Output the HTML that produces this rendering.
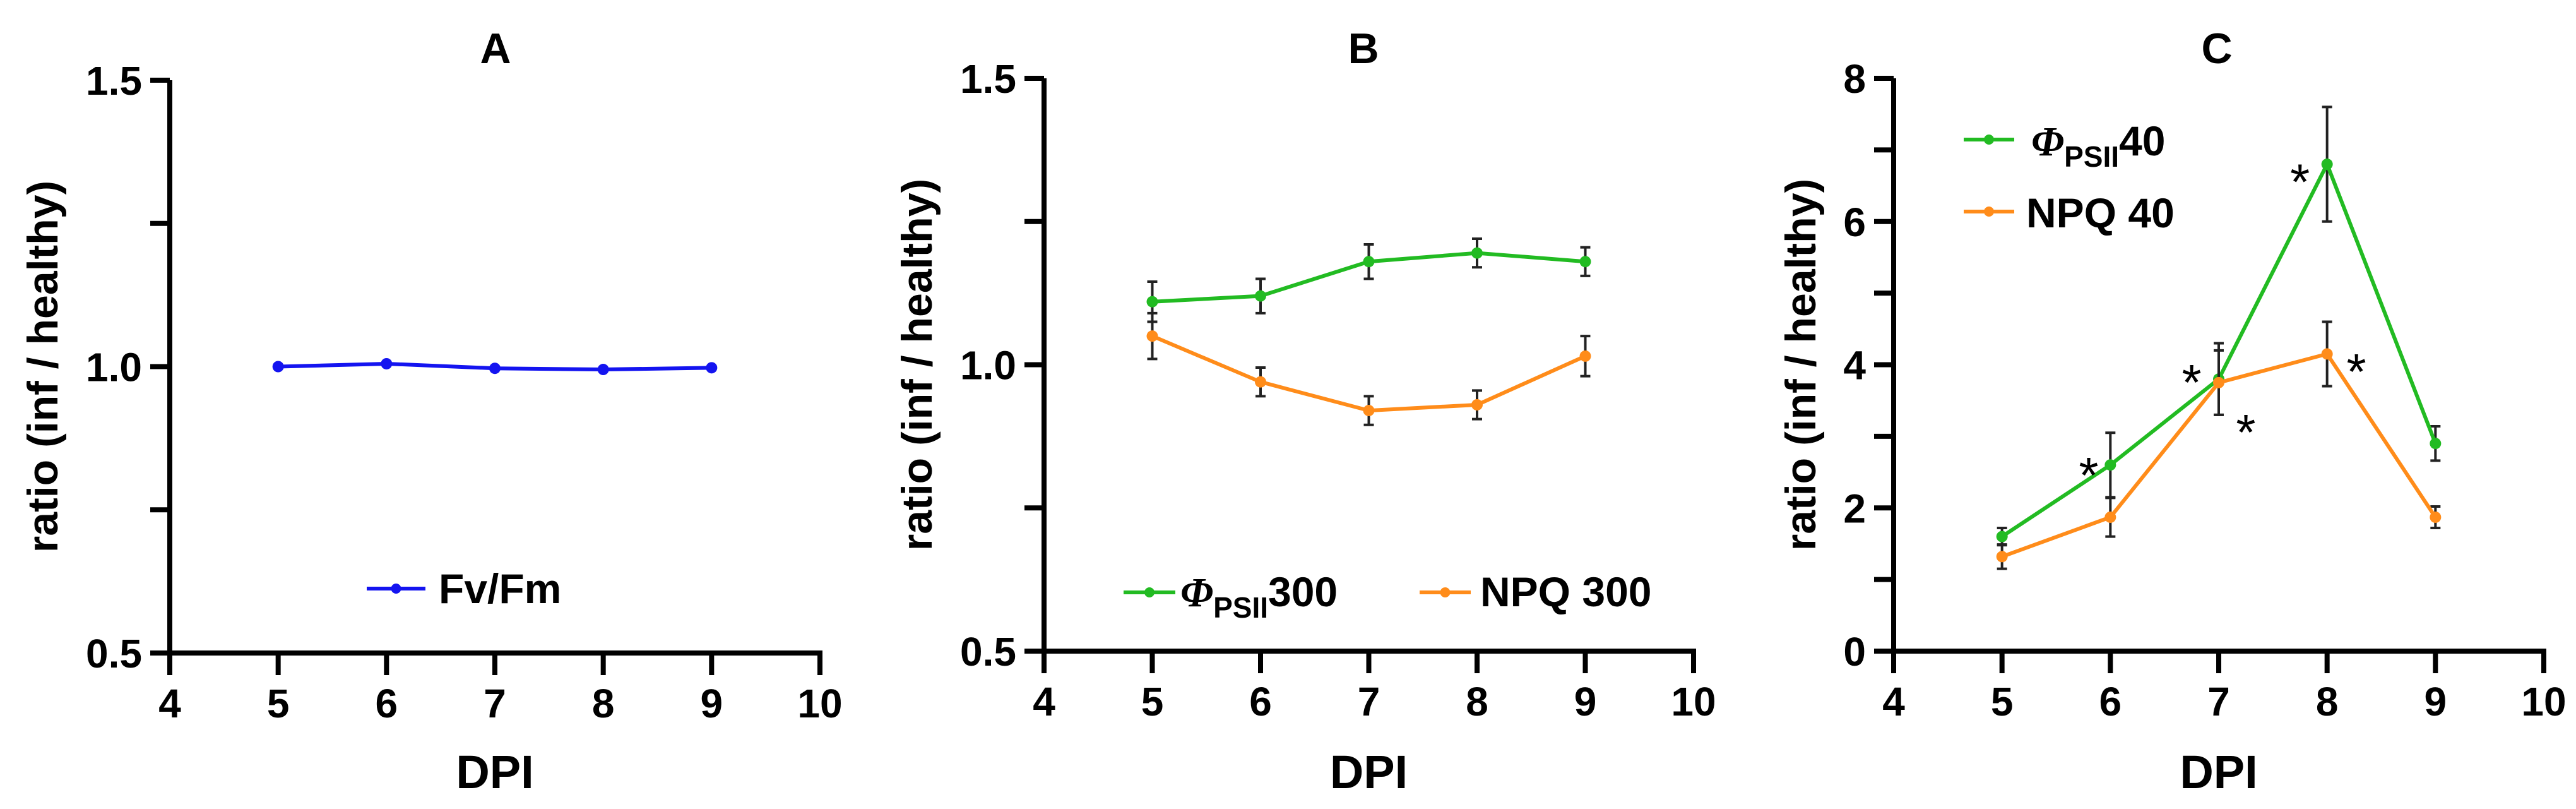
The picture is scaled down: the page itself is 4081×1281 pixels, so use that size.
<!DOCTYPE html>
<html><head><meta charset="utf-8">
<style>
html,body{margin:0;padding:0;background:#fff;}
svg{display:block;}
text{font-family:"Liberation Sans",Arial,sans-serif;font-weight:bold;fill:#000;}
</style></head>
<body>
<svg id="fig" width="4081" height="1281" viewBox="0 0 4081 1281" xmlns="http://www.w3.org/2000/svg"></svg>
<script>
const xTicks = [4,5,6,7,8,9,10];
const dpi = [5,6,7,8,9];
const aFvFm = [1.0,1.005,0.997,0.995,0.998];
const bPsii = [1.11,1.12,1.18,1.195,1.18];
const bPsiiErr = [0.035,0.03,0.03,0.025,0.025];
const bNpq = [1.05,0.97,0.92,0.93,1.015];
const bNpqErr = [0.04,0.025,0.025,0.025,0.035];
const cPsii = [1.6,2.6,3.8,6.8,2.9];
const cPsiiErr = [0.12,0.45,0.5,0.8,0.24];
const cNpq = [1.32,1.87,3.75,4.15,1.87];
const cNpqErr = [0.17,0.27,0.45,0.45,0.15];
const abYTicks = [0.5,1.0,1.5];
const abYTickLabels = ['0.5','1.0','1.5'];
const abYMinor = [0.75,1.25];
const cYTicks = [0,2,4,6,8];
const cYTickLabels = ['0','2','4','6','8'];
const cYMinor = [1,3,5,7];

const NS='http://www.w3.org/2000/svg';
const svg=document.getElementById('fig');
function mk(tag,attrs,parent,txt){const e=document.createElementNS(NS,tag);for(const k in attrs)e.setAttribute(k,attrs[k]);if(txt!==undefined)e.textContent=txt;(parent||svg).appendChild(e);return e;}

function panel(cfg){
  const g=mk('g',{});
  
  
  const X=v=>cfg.x0+(v-4)/6*(cfg.x1-cfg.x0);
  const Y=v=>cfg.yb-(v-cfg.ymin)/(cfg.ymax-cfg.ymin)*(cfg.yb-cfg.yt);
  const t=mk('text',{x:cfg.titleX,y:100,'font-size':68,'text-anchor':'middle'},g,cfg.id);
  
  
  const ax=mk('path',{d:`M${cfg.x0},${cfg.yt} V${cfg.yb} H${cfg.x1} V${cfg.yb+35}`,stroke:'#000','stroke-width':8,fill:'none'},g);
  
  
  xTicks.forEach(v=>{
    mk('line',{x1:X(v),x2:X(v),y1:cfg.yb,y2:cfg.yb+35,stroke:'#000','stroke-width':8},g);
    const l=mk('text',{x:X(v),y:cfg.yb+102,'font-size':64,'text-anchor':'middle'},g,String(v));
    
    
  });
  cfg.yTicks.forEach((v,i)=>{
    mk('line',{x1:cfg.x0-31,x2:cfg.x0,y1:Y(v),y2:Y(v),stroke:'#000','stroke-width':8},g);
    const l=mk('text',{x:cfg.x0-44,y:Y(v)+23,'font-size':64,'text-anchor':'end'},g,cfg.yLabels[i]);
    
    
  });
  cfg.yMinor.forEach(v=>mk('line',{x1:cfg.x0-31,x2:cfg.x0,y1:Y(v),y2:Y(v),stroke:'#000','stroke-width':8},g));
  const xt=mk('text',{x:(cfg.x0+cfg.x1)/2,y:1248,'font-size':74,'text-anchor':'middle'},g,'DPI');
  
  
  const yt=mk('text',{x:0,y:0,'font-size':68,'text-anchor':'middle',transform:`translate(${cfg.ylabX+24},${(cfg.yt+cfg.yb)/2}) rotate(-90)`},g,'ratio (inf / healthy)');
  
  
  cfg.series.forEach(s=>{
    const sg=mk('g',{},g);
    
    
    if(s.err){dpi.forEach((d,i)=>{
      const x=X(d),ya=Y(s.vals[i]+s.err[i]),yb=Y(s.vals[i]-s.err[i]);
      mk('path',{d:`M${x},${ya}V${yb}M${x-8},${ya}H${x+8}M${x-8},${yb}H${x+8}`,stroke:'#222','stroke-width':4,fill:'none'},sg);
    });}
    const ln=mk('polyline',{points:dpi.map((d,i)=>X(d)+','+Y(s.vals[i])).join(' '),stroke:s.color,'stroke-width':6,fill:'none'},sg);
    
    
    dpi.forEach((d,i)=>{
      const c=mk('circle',{cx:X(d),cy:Y(s.vals[i]),r:9,fill:s.color},sg);
      
      
    });
  });
  return {g,X,Y};
}

const pa=panel({id:'A',x0:269,x1:1299,yt:127,yb:1034,ymin:0.5,ymax:1.5,titleX:785,ylabX:67,
  yTicks:abYTicks,yLabels:abYTickLabels,yMinor:abYMinor,
  series:[{name:'fv-fm',vals:aFvFm,color:'#1414f0'}]});
function legend(g,x1,x2,y,color,name){
  const l=mk('line',{x1,x2,y1:y,y2:y,stroke:color,'stroke-width':6},g);
  
  
  mk('circle',{cx:(x1+x2)/2,cy:y,r:8,fill:color},g);
}
legend(pa.g,581,674,932,'#1414f0','fv-fm');
let lt=mk('text',{x:695,y:955,'font-size':66},pa.g,'Fv/Fm');



const pb=panel({id:'B',x0:1654,x1:2683,yt:124,yb:1031,ymin:0.5,ymax:1.5,titleX:2160,ylabX:1452,
  yTicks:abYTicks,yLabels:abYTickLabels,yMinor:abYMinor,
  series:[{name:'psii-300',vals:bPsii,err:bPsiiErr,color:'#22bb22'},{name:'npq-300',vals:bNpq,err:bNpqErr,color:'#ff8c1a'}]});
legend(pb.g,1780,1862,938,'#22bb22','psii-300');
lt=mk('text',{x:1870,y:960,'font-size':66},pb.g);


mk('tspan',{'font-style':'italic','font-family':'"Liberation Serif",serif'},lt,'Φ');
mk('tspan',{'font-size':46,dy:18},lt,'PSII');
mk('tspan',{dy:-18},lt,'300');
legend(pb.g,2249,2330,938,'#ff8c1a','npq-300');
lt=mk('text',{x:2345,y:960,'font-size':66},pb.g);


mk('tspan',{},lt,'NPQ 300');

const pc=panel({id:'C',x0:3000,x1:4030,yt:124,yb:1031,ymin:0,ymax:8,titleX:3512,ylabX:2852,
  yTicks:cYTicks,yLabels:cYTickLabels,yMinor:cYMinor,
  series:[{name:'psii-40',vals:cPsii,err:cPsiiErr,color:'#22bb22'},{name:'npq-40',vals:cNpq,err:cNpqErr,color:'#ff8c1a'}]});
legend(pc.g,3111,3191,221,'#22bb22','psii-40');
lt=mk('text',{x:3218,y:246,'font-size':66},pc.g);


mk('tspan',{'font-style':'italic','font-family':'"Liberation Serif",serif'},lt,'Φ');
mk('tspan',{'font-size':46,dy:18},lt,'PSII');
mk('tspan',{dy:-18},lt,'40');
legend(pc.g,3111,3191,335,'#ff8c1a','npq-40');
lt=mk('text',{x:3210,y:360,'font-size':66},pc.g);


mk('tspan',{},lt,'NPQ 40');
const starX=[5.8,6.75,7.25,7.75,8.27];
const starY=[2.6,3.9,3.2,6.7,4.05];
starX.forEach((v,i)=>{
  const s=mk('text',{x:pc.X(v),y:pc.Y(starY[i])+44,'font-size':80,'text-anchor':'middle',style:'font-weight:normal'},pc.g,'*');
  
  
});
</script>
</body></html>
